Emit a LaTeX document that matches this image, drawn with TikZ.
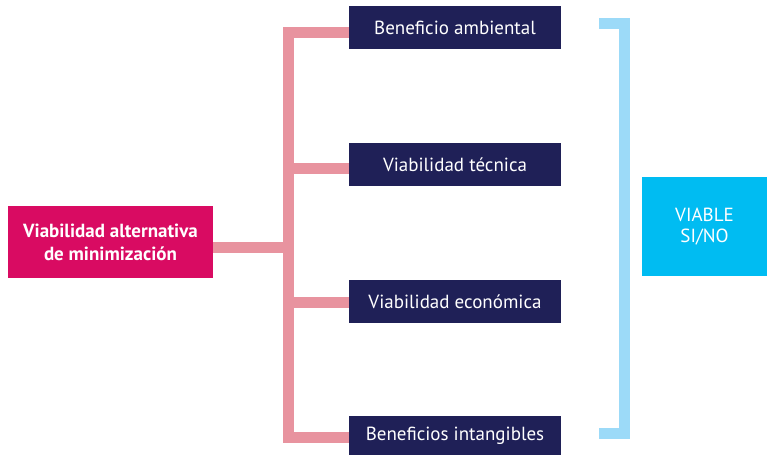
\documentclass[tikz,border=0pt]{standalone}
\usepackage{fontspec}
\setmainfont{PT Sans}
\definecolor{rosa}{HTML}{D90B62}
\definecolor{marino}{HTML}{1F2057}
\definecolor{rosaclaro}{HTML}{E8939F}
\definecolor{celeste}{HTML}{9CDAF8}
\definecolor{cian}{HTML}{00BCF2}

\begin{document}
\begin{tikzpicture}[x=1pt,y=-1pt,
  caja/.style={fill=marino,text=white,minimum width=212pt,minimum height=43pt,
    inner sep=0pt,font=\fontsize{19}{22}\selectfont},
  rama/.style={draw=rosaclaro,line width=11pt,line join=miter},
  llave/.style={draw=celeste,line width=11pt,line join=miter}]

\useasboundingbox (0,0) rectangle (767,455);

% Alternativa
  \node[fill=rosa,text=white,minimum width=205pt,minimum height=72pt,inner sep=0pt,
    align=center,font=\fontsize{19}{23}\selectfont\bfseries] (alt) at (110.5,242)
    {Viabilidad alternativa\\de minimización};

% Criterios
  \node[caja] (ben) at (455,27.5) {Beneficio ambiental};
  \node[caja] (tec) at (455,164.5) {Viabilidad técnica};
  \node[caja] (eco) at (455,301.5) {Viabilidad económica};
  \node[caja,minimum height=39pt] (int) at (455,435.5) {Beneficios intangibles};

% Resultado
  \node[fill=cian,text=white,minimum width=125pt,minimum height=99pt,inner sep=0pt,
    align=center,font=\fontsize{19}{21}\selectfont] (res) at (704.5,226.5) {VIABLE\\SI/NO};

% Ramas
  \coordinate (j0) at (288,247);
  \coordinate (j1) at (288,32.5);
  \coordinate (j2) at (288,168);
  \coordinate (j3) at (288,302.5);
  \coordinate (j4) at (288,437.5);
  \draw[rama] (alt.east |- j0) -- (j0);
  \draw[rama] (j1 -| ben.west) -- (j1) -- (j4) -- (j4 -| int.west);
  \foreach \j/\c in {j2/tec, j3/eco}
    \draw[rama] (\j) -- (\j -| \c.west);

% Llave
  \coordinate (k1) at (599,23.5);
  \coordinate (k2) at (599,433.5);
  \draw[llave] (k1) -- ++(25.5,0) |- (k2);

\end{tikzpicture}
\end{document}
